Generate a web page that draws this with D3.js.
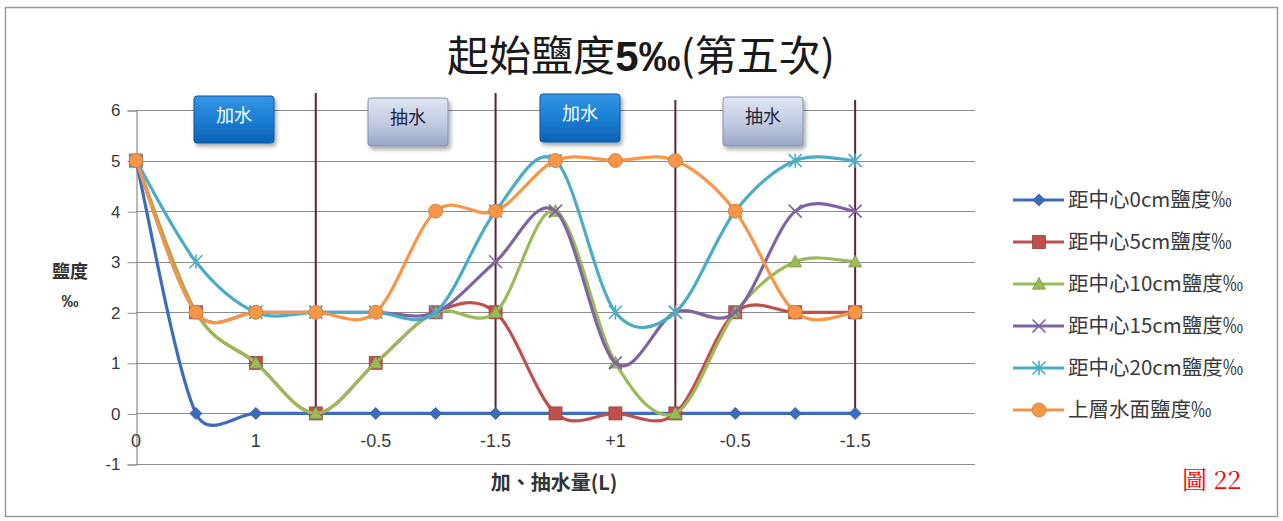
<!DOCTYPE html>
<html>
<head>
<meta charset="utf-8">
<script src="https://cdn.jsdelivr.net/npm/d3@7"></script>
<style>
  html, body { margin: 0; padding: 0; background: #fff; }
  svg { display: block; }
</style>
</head>
<body>
<svg id="chart" width="1283" height="521"></svg>
<script>
// Water added / removed at each reading (L)
const categories = ["0", "0.5", "1", "1.5", "-0.5", "-1", "-1.5", "+0.5", "+1", "+1.5", "-0.5", "-1", "-1.5"];
// every second category carries a visible label
const labelEvery = 2;
const yTicks = [-1, 0, 1, 2, 3, 4, 5, 6];

// Salinity (‰) at each distance from the centre, plus the surface layer
const seriesNames = ["距中心0cm鹽度‰", "距中心5cm鹽度‰", "距中心10cm鹽度‰", "距中心15cm鹽度‰", "距中心20cm鹽度‰", "上層水面鹽度‰"];
const s0cm    = [5, 0, 0, 0, 0, 0, 0, 0, 0, 0, 0, 0, 0];
const s5cm    = [5, 2, 1, 0, 1, 2, 2, 0, 0, 0, 2, 2, 2];
const s10cm   = [5, 2, 1, 0, 1, 2, 2, 4, 1, 0, 2, 3, 3];
const s15cm   = [5, 2, 2, 2, 2, 2, 3, 4, 1, 2, 2, 4, 4];
const s20cm   = [5, 3, 2, 2, 2, 2, 4, 5, 2, 2, 4, 5, 5];
const surface = [5, 2, 2, 2, 2, 4, 4, 5, 5, 5, 4, 2, 2];

// Phase labels and the readings that close each phase
const phaseLabels = ["加水", "抽水", "加水", "抽水"];
const phaseEnds = [3, 6, 9, 12];

const xTitle = "加、抽水量(L)";
const yTitle = ["鹽度", "‰"];
const figLabel = "圖 22";

const colors = ["#3d6cbf", "#c0504d", "#9bbb59", "#8064a2", "#4bacc6", "#f79646"];
const markers = ["diamond", "square", "triangle", "x", "star", "circle"];
const seriesValues = [s0cm, s5cm, s10cm, s15cm, s20cm, surface];

const svg = d3.select("#chart");
const CJK = "'Noto Sans CJK TC', 'Noto Sans CJK SC', sans-serif";
const LAT = "'Liberation Sans', Arial, 'Noto Sans CJK TC', sans-serif";

// chart frame
svg.append("rect")
  .attr("x", 5.5).attr("y", 7.5).attr("width", 1272).attr("height", 509)
  .attr("fill", "#fff").attr("stroke", "#9a9a9a").attr("stroke-width", 1.5);

const plot = { left: 136, right: 975, top: 110, bottom: 464 };
const x = d3.scaleLinear().domain([0, categories.length + 1]).range([plot.left, plot.right]);
const y = d3.scaleLinear().domain([-1, 6]).range([plot.bottom, plot.top]);

// horizontal gridlines
svg.append("g").selectAll("line").data(yTicks).join("line")
  .attr("x1", plot.left).attr("x2", plot.right)
  .attr("y1", d => Math.round(y(d)) + 0.5).attr("y2", d => Math.round(y(d)) + 0.5)
  .attr("stroke", "#8c8c8c").attr("stroke-width", 1.2);

// value axis
const yAxis = d3.axisLeft(y).tickValues(yTicks).tickSize(9).tickPadding(7).tickFormat(d => String(d));
const gy = svg.append("g").attr("transform", `translate(${plot.left + 0.5},0.5)`).call(yAxis);
gy.select(".domain").attr("stroke", "#8c8c8c").attr("stroke-width", 1.2);
gy.selectAll(".tick line").attr("stroke", "#8c8c8c");
gy.selectAll("text").attr("font-family", LAT).attr("font-size", 17).attr("fill", "#3a3a3a");

// category labels sit under the zero line
const gx = svg.append("g").attr("transform", `translate(0,${y(0)})`);
gx.selectAll("text").data(categories.map((c, i) => ({ c, i })).filter(d => d.i % labelEvery === 0)).join("text")
  .attr("x", d => x(d.i)).attr("y", 34)
  .attr("text-anchor", "middle")
  .attr("font-family", LAT).attr("font-size", 18).attr("fill", "#3a3a3a")
  .text(d => d.c);

// phase separators
svg.append("g").selectAll("line").data(phaseEnds).join("line")
  .attr("x1", d => x(d)).attr("x2", d => x(d))
  .attr("y1", (d, i) => i < 2 ? 93 : 100).attr("y2", y(0))
  .attr("stroke", "#5e2233").attr("stroke-width", 2);

// phase label buttons
const defs = svg.append("defs");
const gAdd = defs.append("linearGradient").attr("id", "gAdd").attr("x1", 0).attr("y1", 0).attr("x2", 0).attr("y2", 1);
gAdd.append("stop").attr("offset", "0%").attr("stop-color", "#3496e4");
gAdd.append("stop").attr("offset", "50%").attr("stop-color", "#1c7ed4");
gAdd.append("stop").attr("offset", "100%").attr("stop-color", "#0c62b4");
const gDraw = defs.append("linearGradient").attr("id", "gDraw").attr("x1", 0).attr("y1", 0).attr("x2", 0).attr("y2", 1);
gDraw.append("stop").attr("offset", "0%").attr("stop-color", "#dfe5f2");
gDraw.append("stop").attr("offset", "50%").attr("stop-color", "#c3cce2");
gDraw.append("stop").attr("offset", "100%").attr("stop-color", "#98a6c6");
const shadow = defs.append("filter").attr("id", "shadow").attr("x", "-20%").attr("y", "-20%").attr("width", "150%").attr("height", "160%");
shadow.append("feDropShadow").attr("dx", 2).attr("dy", 3).attr("stdDeviation", 2).attr("flood-color", "#000").attr("flood-opacity", 0.35);

const buttonBoxes = [
  { cx: 234, top: 96, h: 47 },
  { cx: 408, top: 98, h: 48 },
  { cx: 580, top: 94, h: 48 },
  { cx: 763, top: 97, h: 49 }
];
const bw = 80;
const btn = svg.append("g").selectAll("g").data(phaseLabels).join("g")
  .attr("transform", (d, i) => `translate(${buttonBoxes[i].cx - bw / 2},${buttonBoxes[i].top})`);
btn.append("rect")
  .attr("width", bw).attr("height", (d, i) => buttonBoxes[i].h).attr("rx", 3)
  .attr("fill", d => d === "加水" ? "url(#gAdd)" : "url(#gDraw)")
  .attr("stroke", d => d === "加水" ? "#0d5aa6" : "#8391b2").attr("stroke-width", 1)
  .attr("filter", "url(#shadow)");
btn.append("text")
  .attr("x", bw / 2).attr("y", 26)
  .attr("text-anchor", "middle")
  .attr("font-family", CJK).attr("font-size", 18)
  .attr("fill", d => d === "加水" ? "#ffffff" : "#1c2440")
  .text(d => d);

// smoothed line: Bezier segments with 1/6 tangents, tangent length capped by the segment
function curveSmooth(context) {
  let pts;
  function ctrl(p, a, b, seg, sign) {
    let tx = (b[0] - a[0]) / 6, ty = (b[1] - a[1]) / 6;
    const len = Math.hypot(tx, ty), cap = seg * 0.5;
    if (len > cap && len > 0) { tx *= cap / len; ty *= cap / len; }
    return [p[0] + sign * tx, p[1] + sign * ty];
  }
  return {
    areaStart() {}, areaEnd() {},
    lineStart() { pts = []; },
    point(px, py) { pts.push([+px, +py]); },
    lineEnd() {
      const n = pts.length;
      if (!n) return;
      context.moveTo(pts[0][0], pts[0][1]);
      for (let i = 0; i < n - 1; i++) {
        const p0 = pts[Math.max(i - 1, 0)], p1 = pts[i], p2 = pts[i + 1], p3 = pts[Math.min(i + 2, n - 1)];
        const seg = Math.hypot(p2[0] - p1[0], p2[1] - p1[1]);
        const c1 = ctrl(p1, p0, p2, seg, 1);
        const c2 = ctrl(p2, p1, p3, seg, -1);
        context.bezierCurveTo(c1[0], c1[1], c2[0], c2[1], p2[0], p2[1]);
      }
    }
  };
}

const line = d3.line().x((d, i) => x(i)).y(d => y(d)).curve(curveSmooth);

function drawMarker(g, type, color, size) {
  const s = size / 2;
  const dark = d3.color(color).darker(0.6).formatHex();
  if (type === "diamond") {
    g.append("path").attr("d", `M0,${-s}L${s},0L0,${s}L${-s},0Z`).attr("fill", color).attr("stroke", dark).attr("stroke-width", 0.8);
  } else if (type === "square") {
    g.append("rect").attr("x", -s).attr("y", -s).attr("width", size).attr("height", size).attr("fill", color).attr("stroke", dark).attr("stroke-width", 0.8);
  } else if (type === "triangle") {
    g.append("path").attr("d", `M0,${-s}L${s},${s * 0.8}L${-s},${s * 0.8}Z`).attr("fill", color).attr("stroke", dark).attr("stroke-width", 0.8);
  } else if (type === "x") {
    g.append("path").attr("d", `M${-s},${-s}L${s},${s}M${-s},${s}L${s},${-s}`).attr("stroke", color).attr("stroke-width", 1.6).attr("fill", "none");
  } else if (type === "star") {
    g.append("path").attr("d", `M${-s},${-s}L${s},${s}M${-s},${s}L${s},${-s}M0,${-s * 1.1}L0,${s * 1.1}`).attr("stroke", color).attr("stroke-width", 1.6).attr("fill", "none");
  } else {
    g.append("circle").attr("r", s).attr("fill", color).attr("stroke", dark).attr("stroke-width", 0.8);
  }
}

const markerSize = [12, 13, 13, 13, 13, 14];

// series lines with markers, drawn in series order
seriesValues.forEach((vals, si) => {
  const g = svg.append("g");
  g.append("path").datum(vals).attr("d", line)
    .attr("fill", "none").attr("stroke", colors[si]).attr("stroke-width", 3.2)
    .attr("stroke-linejoin", "round").attr("stroke-linecap", "round");
  g.selectAll("g").data(vals).join("g")
    .attr("transform", (d, i) => `translate(${x(i)},${y(d)})`)
    .each(function () { drawMarker(d3.select(this), markers[si], colors[si], markerSize[si]); });
});

// title
svg.append("text").attr("x", 641).attr("y", 71).attr("text-anchor", "middle")
  .attr("font-family", CJK).attr("font-size", 42).attr("fill", "#1a1a1a")
  .selectAll("tspan").data([["起始鹽度", 400], ["5‰", 700], ["(第五次)", 400]]).join("tspan")
  .attr("font-weight", d => d[1]).attr("font-family", d => d[1] === 700 ? LAT : CJK)
  .text(d => d[0]);

// axis titles
svg.append("text").attr("x", 70).attr("y", 278).attr("text-anchor", "middle")
  .attr("font-family", CJK).attr("font-size", 18).attr("font-weight", 700).attr("fill", "#333")
  .text(yTitle[0]);
svg.append("text").attr("x", 70).attr("y", 307).attr("text-anchor", "middle")
  .attr("font-family", LAT).attr("font-size", 17).attr("font-weight", 700).attr("fill", "#333")
  .text(yTitle[1]);
svg.append("text").attr("x", 554).attr("y", 490).attr("text-anchor", "middle")
  .attr("font-family", CJK).attr("font-size", 20).attr("font-weight", 700).attr("fill", "#333")
  .text(xTitle);

// legend
const legend = svg.append("g").attr("transform", "translate(1013,200)");
const legRow = 42;
seriesNames.forEach((name, si) => {
  const g = legend.append("g").attr("transform", `translate(0,${si * legRow})`);
  g.append("line").attr("x1", 0).attr("x2", 51).attr("y1", 0).attr("y2", 0)
    .attr("stroke", colors[si]).attr("stroke-width", 3.2);
  drawMarker(g.append("g").attr("transform", "translate(26,0)"), markers[si], colors[si], markerSize[si]);
  g.append("text").attr("x", 55).attr("y", 7)
    .attr("font-family", CJK).attr("font-size", 20.5).attr("fill", "#3a3a3a")
    .text(name);
});

// figure number
svg.append("text").attr("x", 1182).attr("y", 489)
  .attr("font-family", "'Noto Serif CJK TC', 'Liberation Serif', serif").attr("font-size", 25).attr("fill", "#ff0000")
  .text(figLabel);
</script>
</body>
</html>
